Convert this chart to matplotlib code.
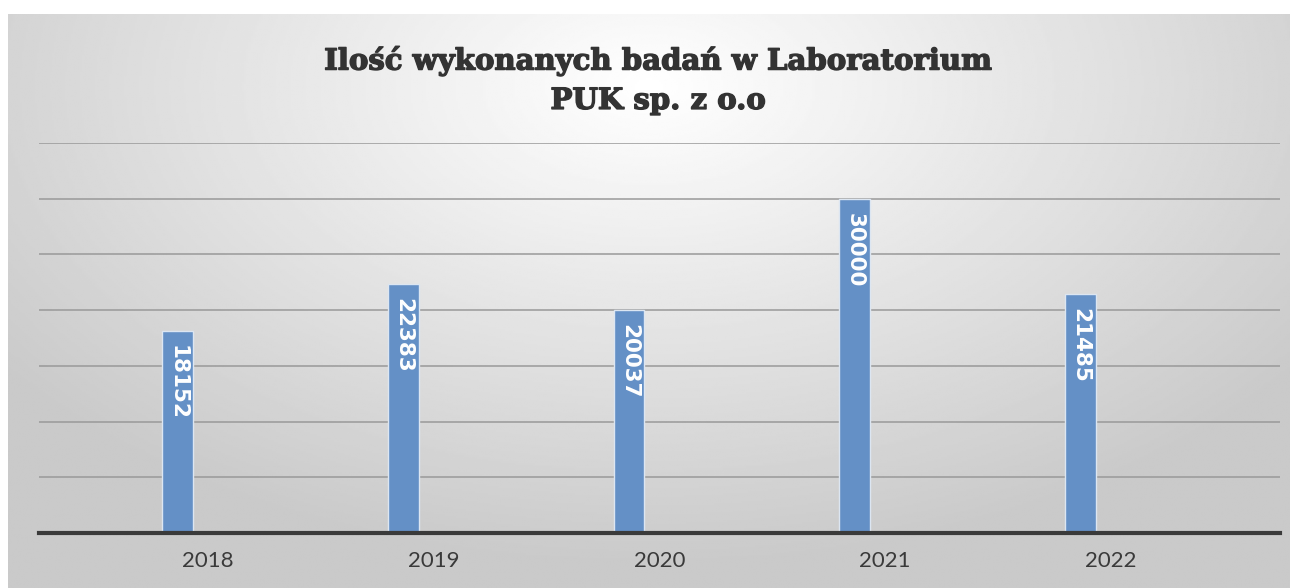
import numpy as np
import matplotlib.pyplot as plt
import matplotlib.patheffects as pe

# Daten
lata = ["2018", "2019", "2020", "2021", "2022"]
badania = [18152, 22383, 20037, 30000, 21485]

tytul = "Ilość wykonanych badań w Laboratorium\nPUK sp. z o.o"

fig = plt.figure(figsize=(12.98, 5.88), dpi=100)
fig.patch.set_facecolor("white")

# Hintergrund mit radialem Verlauf (hell oben Mitte, dunkler am Rand)
bg = fig.add_axes([8 / 1298, 0, 1282 / 1298, 574 / 588])
gx, gy = np.meshgrid(np.linspace(-1, 1, 600), np.linspace(-0.25, 1.75, 300))
r = np.sqrt((gx / 1.05) ** 2 + (gy / 1.4) ** 2)
r = np.clip(r, 0, 1.2) / 1.2
farbe = 1.0 - 0.21 * r
bg.imshow(farbe, cmap="gray", vmin=0, vmax=1, aspect="auto", extent=[0, 1, 0, 1])
bg.set_axis_off()

ax = fig.add_axes([39 / 1298, 1 - 533 / 588, 1241 / 1298, 390 / 588])
ax.patch.set_alpha(0)

x = np.arange(len(lata))
bars = ax.bar(x - 0.135, badania, width=0.137, color="#6490c6",
              edgecolor="#dce6f2", linewidth=1.0, zorder=3)

for b, v in zip(bars, badania):
    ax.text(b.get_x() + b.get_width() / 2, v - 1300, str(v),
            rotation=270, ha="center", va="top", color="white",
            fontsize=15.5, fontweight="bold", family="DejaVu Sans", zorder=4)

ax.set_xlim(-0.75, 4.75)
ax.set_ylim(0, 35000)
ax.set_yticks(np.arange(5000, 35001, 5000))
ax.yaxis.grid(True, color="#999999", linewidth=1.1, zorder=0)
ax.tick_params(axis="y", left=False, labelleft=False)
ax.set_xticks(x)
ax.set_xticklabels(lata, fontsize=16, color="#3a3a3a", family="Lato")
ax.tick_params(axis="x", length=0, pad=13)
for s in ["top", "right", "left"]:
    ax.spines[s].set_visible(False)
ax.spines["bottom"].set_color("#3a3a3a")
ax.spines["bottom"].set_linewidth(3)
ax.spines["bottom"].set_zorder(5)

fig.text(658 / 1298, 1 - 80 / 588, tytul, ha="center", va="center",
         fontsize=21, fontweight="bold", family="DejaVu Serif",
         color="#333333", linespacing=1.45,
         path_effects=[pe.withStroke(linewidth=1.0, foreground="#333333")])

plt.savefig("out.png", dpi=100)
